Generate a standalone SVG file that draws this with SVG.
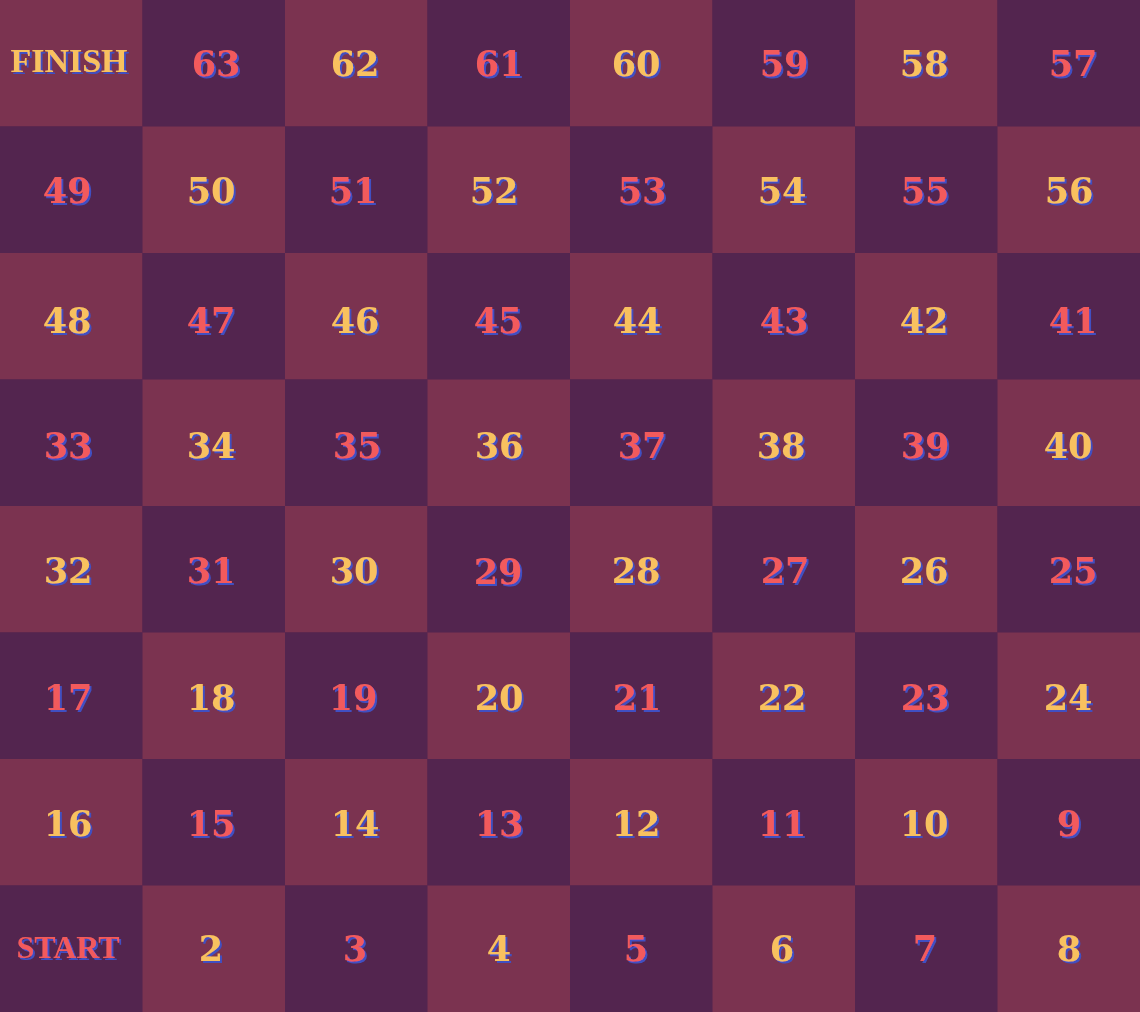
<svg xmlns="http://www.w3.org/2000/svg" width="1140" height="1012" viewBox="0 0 1140 1012">
<defs>
<style>
.m{fill:#7b3350}
.p{fill:#53254f}
text{font-family:"DejaVu Serif","Liberation Serif",serif;font-weight:bold;font-size:35px;text-anchor:middle;filter:url(#sh)}
.y{fill:#f8c15e}
.r{fill:#f25a5c}
.w{font-size:34px;font-family:"Liberation Serif",serif}
.s{font-size:32px}
</style>
<filter id="sh" x="-20%" y="-30%" width="140%" height="160%">
<feDropShadow dx="2" dy="2" stdDeviation="0" flood-color="#3f4fc2" flood-opacity="1"/>
</filter>
</defs>
<g id="board">
<rect x="0" y="0" width="1140" height="1012" class="p"/>
</g>
<g id="connectors"></g>
<g id="r0">
<g id="n64"><rect class="m" x="0" y="0" width="142.5" height="126.5"/><text class="y w" x="69" y="72">FINISH</text></g>
<g id="n63"><rect class="p" x="142.5" y="0" width="142.5" height="126.5"/><text class="r" x="216" y="76">63</text></g>
<g id="n62"><rect class="m" x="285" y="0" width="142.5" height="126.5"/><text class="y" x="355" y="76">62</text></g>
<g id="n61"><rect class="p" x="427.5" y="0" width="142.5" height="126.5"/><text class="r" x="499" y="76">61</text></g>
<g id="n60"><rect class="m" x="570" y="0" width="142.5" height="126.5"/><text class="y" x="636" y="76">60</text></g>
<g id="n59"><rect class="p" x="712.5" y="0" width="142.5" height="126.5"/><text class="r" x="784" y="76">59</text></g>
<g id="n58"><rect class="m" x="855" y="0" width="142.5" height="126.5"/><text class="y" x="924" y="76">58</text></g>
<g id="n57"><rect class="p" x="997.5" y="0" width="142.5" height="126.5"/><text class="r" x="1073" y="76">57</text></g>
</g>
<g id="r1">
<g id="n49"><rect class="p" x="0" y="126.5" width="142.5" height="126.5"/><text class="r" x="67" y="203">49</text></g>
<g id="n50"><rect class="m" x="142.5" y="126.5" width="142.5" height="126.5"/><text class="y" x="211" y="203">50</text></g>
<g id="n51"><rect class="p" x="285" y="126.5" width="142.5" height="126.5"/><text class="r" x="353" y="203">51</text></g>
<g id="n52"><rect class="m" x="427.5" y="126.5" width="142.5" height="126.5"/><text class="y" x="494" y="203">52</text></g>
<g id="n53"><rect class="p" x="570" y="126.5" width="142.5" height="126.5"/><text class="r" x="642" y="203">53</text></g>
<g id="n54"><rect class="m" x="712.5" y="126.5" width="142.5" height="126.5"/><text class="y" x="782" y="203">54</text></g>
<g id="n55"><rect class="p" x="855" y="126.5" width="142.5" height="126.5"/><text class="r" x="925" y="203">55</text></g>
<g id="n56"><rect class="m" x="997.5" y="126.5" width="142.5" height="126.5"/><text class="y" x="1069" y="203">56</text></g>
</g>
<g id="r2">
<g id="n48"><rect class="m" x="0" y="253" width="142.5" height="126.5"/><text class="y" x="67" y="333">48</text></g>
<g id="n47"><rect class="p" x="142.5" y="253" width="142.5" height="126.5"/><text class="r" x="211" y="333">47</text></g>
<g id="n46"><rect class="m" x="285" y="253" width="142.5" height="126.5"/><text class="y" x="355" y="333">46</text></g>
<g id="n45"><rect class="p" x="427.5" y="253" width="142.5" height="126.5"/><text class="r" x="498" y="333">45</text></g>
<g id="n44"><rect class="m" x="570" y="253" width="142.5" height="126.5"/><text class="y" x="637" y="333">44</text></g>
<g id="n43"><rect class="p" x="712.5" y="253" width="142.5" height="126.5"/><text class="r" x="784" y="333">43</text></g>
<g id="n42"><rect class="m" x="855" y="253" width="142.5" height="126.5"/><text class="y" x="924" y="333">42</text></g>
<g id="n41"><rect class="p" x="997.5" y="253" width="142.5" height="126.5"/><text class="r" x="1073" y="333">41</text></g>
</g>
<g id="r3">
<g id="n33"><rect class="p" x="0" y="379.5" width="142.5" height="126.5"/><text class="r" x="68" y="458">33</text></g>
<g id="n34"><rect class="m" x="142.5" y="379.5" width="142.5" height="126.5"/><text class="y" x="211" y="458">34</text></g>
<g id="n35"><rect class="p" x="285" y="379.5" width="142.5" height="126.5"/><text class="r" x="357" y="458">35</text></g>
<g id="n36"><rect class="m" x="427.5" y="379.5" width="142.5" height="126.5"/><text class="y" x="499" y="458">36</text></g>
<g id="n37"><rect class="p" x="570" y="379.5" width="142.5" height="126.5"/><text class="r" x="642" y="458">37</text></g>
<g id="n38"><rect class="m" x="712.5" y="379.5" width="142.5" height="126.5"/><text class="y" x="781" y="458">38</text></g>
<g id="n39"><rect class="p" x="855" y="379.5" width="142.5" height="126.5"/><text class="r" x="925" y="458">39</text></g>
<g id="n40"><rect class="m" x="997.5" y="379.5" width="142.5" height="126.5"/><text class="y" x="1068" y="458">40</text></g>
</g>
<g id="r4">
<g id="n32"><rect class="m" x="0" y="506" width="142.5" height="126.5"/><text class="y" x="68" y="583">32</text></g>
<g id="n31"><rect class="p" x="142.5" y="506" width="142.5" height="126.5"/><text class="r" x="211" y="583">31</text></g>
<g id="n30"><rect class="m" x="285" y="506" width="142.5" height="126.5"/><text class="y" x="354" y="583">30</text></g>
<g id="n29"><rect class="p" x="427.5" y="506" width="142.5" height="126.5"/><text class="r" x="498" y="584">29</text></g>
<g id="n28"><rect class="m" x="570" y="506" width="142.5" height="126.5"/><text class="y" x="636" y="583">28</text></g>
<g id="n27"><rect class="p" x="712.5" y="506" width="142.5" height="126.5"/><text class="r" x="785" y="583">27</text></g>
<g id="n26"><rect class="m" x="855" y="506" width="142.5" height="126.5"/><text class="y" x="924" y="583">26</text></g>
<g id="n25"><rect class="p" x="997.5" y="506" width="142.5" height="126.5"/><text class="r" x="1073" y="583">25</text></g>
</g>
<g id="r5">
<g id="n17"><rect class="p" x="0" y="632.5" width="142.5" height="126.5"/><text class="r" x="68" y="710">17</text></g>
<g id="n18"><rect class="m" x="142.5" y="632.5" width="142.5" height="126.5"/><text class="y" x="211" y="710">18</text></g>
<g id="n19"><rect class="p" x="285" y="632.5" width="142.5" height="126.5"/><text class="r" x="353" y="710">19</text></g>
<g id="n20"><rect class="m" x="427.5" y="632.5" width="142.5" height="126.5"/><text class="y" x="499" y="710">20</text></g>
<g id="n21"><rect class="p" x="570" y="632.5" width="142.5" height="126.5"/><text class="r" x="637" y="710">21</text></g>
<g id="n22"><rect class="m" x="712.5" y="632.5" width="142.5" height="126.5"/><text class="y" x="782" y="710">22</text></g>
<g id="n23"><rect class="p" x="855" y="632.5" width="142.5" height="126.5"/><text class="r" x="925" y="710">23</text></g>
<g id="n24"><rect class="m" x="997.5" y="632.5" width="142.5" height="126.5"/><text class="y" x="1068" y="710">24</text></g>
</g>
<g id="r6">
<g id="n16"><rect class="m" x="0" y="759" width="142.5" height="126.5"/><text class="y" x="68" y="836">16</text></g>
<g id="n15"><rect class="p" x="142.5" y="759" width="142.5" height="126.5"/><text class="r" x="211" y="836">15</text></g>
<g id="n14"><rect class="m" x="285" y="759" width="142.5" height="126.5"/><text class="y" x="355" y="836">14</text></g>
<g id="n13"><rect class="p" x="427.5" y="759" width="142.5" height="126.5"/><text class="r" x="499" y="836">13</text></g>
<g id="n12"><rect class="m" x="570" y="759" width="142.5" height="126.5"/><text class="y" x="636" y="836">12</text></g>
<g id="n11"><rect class="p" x="712.5" y="759" width="142.5" height="126.5"/><text class="r" x="782" y="836">11</text></g>
<g id="n10"><rect class="m" x="855" y="759" width="142.5" height="126.5"/><text class="y" x="924" y="836">10</text></g>
<g id="n9"><rect class="p" x="997.5" y="759" width="142.5" height="126.5"/><text class="r" x="1069" y="836">9</text></g>
</g>
<g id="r7">
<g id="n1"><rect class="p" x="0" y="885.5" width="142.5" height="126.5"/><text class="r w s" x="68" y="958">START</text></g>
<g id="n2"><rect class="m" x="142.5" y="885.5" width="142.5" height="126.5"/><text class="y" x="211" y="961">2</text></g>
<g id="n3"><rect class="p" x="285" y="885.5" width="142.5" height="126.5"/><text class="r" x="355" y="961">3</text></g>
<g id="n4"><rect class="m" x="427.5" y="885.5" width="142.5" height="126.5"/><text class="y" x="499" y="961">4</text></g>
<g id="n5"><rect class="p" x="570" y="885.5" width="142.5" height="126.5"/><text class="r" x="636" y="961">5</text></g>
<g id="n6"><rect class="m" x="712.5" y="885.5" width="142.5" height="126.5"/><text class="y" x="782" y="961">6</text></g>
<g id="n7"><rect class="p" x="855" y="885.5" width="142.5" height="126.5"/><text class="r" x="925" y="961">7</text></g>
<g id="n8"><rect class="m" x="997.5" y="885.5" width="142.5" height="126.5"/><text class="y" x="1069" y="961">8</text></g>
</g>
</svg>
